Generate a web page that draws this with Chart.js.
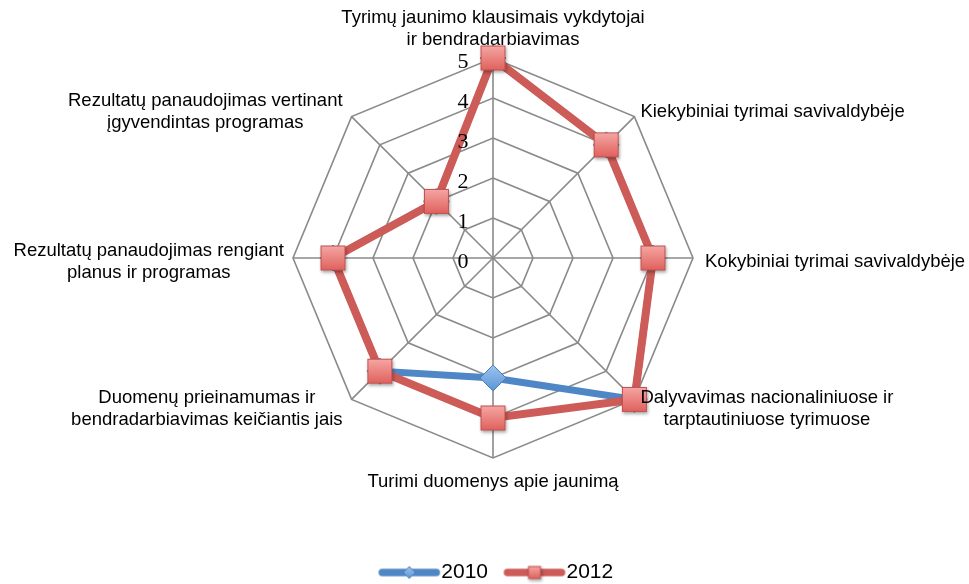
<!DOCTYPE html>
<html>
<head>
<meta charset="utf-8">
<script src="https://cdn.jsdelivr.net/npm/chart.js@4.4.0/dist/chart.umd.min.js"></script>
<style>
  html, body { margin: 0; padding: 0; background: #fff; }
</style>
</head>
<body>
<canvas id="radar" width="969" height="584"></canvas>
<script>
// categories clockwise from the top, split into the lines shown on the chart
const categories = [
  ['Tyrimų jaunimo klausimais vykdytojai', 'ir bendradarbiavimas'],
  ['Kiekybiniai tyrimai savivaldybėje'],
  ['Kokybiniai tyrimai savivaldybėje'],
  ['Dalyvavimas nacionaliniuose ir', 'tarptautiniuose tyrimuose'],
  ['Turimi duomenys apie jaunimą'],
  ['Duomenų prieinamumas ir', 'bendradarbiavimas keičiantis jais'],
  ['Rezultatų panaudojimas rengiant', 'planus ir programas'],
  ['Rezultatų panaudojimas vertinant', 'įgyvendintas programas']
];
const values2010 = [5, 4, 4, 5, 3, 4, 4, 2];
const values2012 = [5, 4, 4, 5, 4, 4, 4, 2];
const tickLabels = ['0', '1', '2', '3', '4', '5'];

const RED = '#CD5B57';
const BLUE = '#4F86C6';

// marker pictures (gradient + small shadow like the office chart)
function squareMarker(size) {
  const pad = 5;
  const c = document.createElement('canvas');
  c.width = c.height = size + pad * 2;
  const g = c.getContext('2d');
  g.shadowColor = 'rgba(0,0,0,0.35)';
  g.shadowBlur = 3;
  g.shadowOffsetX = 1;
  g.shadowOffsetY = 2;
  const grad = g.createLinearGradient(0, pad, 0, pad + size);
  grad.addColorStop(0, '#F5A8A5');
  grad.addColorStop(1, '#E0605C');
  g.fillStyle = grad;
  g.fillRect(pad, pad, size, size);
  g.shadowColor = 'transparent';
  g.strokeStyle = '#C0504D';
  g.lineWidth = 1;
  g.strokeRect(pad + 0.5, pad + 0.5, size - 1, size - 1);
  return c;
}

function diamondMarker(half) {
  const pad = 4;
  const c = document.createElement('canvas');
  c.width = c.height = half * 2 + pad * 2;
  const g = c.getContext('2d');
  const m = half + pad;
  g.beginPath();
  g.moveTo(m, pad);
  g.lineTo(m + half, m);
  g.lineTo(m, m + half);
  g.lineTo(m - half, m);
  g.closePath();
  const grad = g.createLinearGradient(0, pad, 0, m + half);
  grad.addColorStop(0, '#9CC3EE');
  grad.addColorStop(1, '#5B95D6');
  g.fillStyle = grad;
  g.fill();
  g.strokeStyle = '#4A7EBB';
  g.lineWidth = 1;
  g.stroke();
  return c;
}

// legend sample: thick line with the marker in the middle
function legendSample(color, marker) {
  const c = document.createElement('canvas');
  c.width = 79;
  c.height = 24;
  const g = c.getContext('2d');
  g.strokeStyle = color;
  g.lineWidth = 7.5;
  g.lineCap = 'round';
  g.beginPath();
  g.moveTo(20, 12);
  g.lineTo(74, 12);
  g.stroke();
  g.drawImage(marker, 47 - marker.width / 2, 12 - marker.height / 2);
  return c;
}

const sq = squareMarker(25);
const dm = diamondMarker(13);
const legend2010 = legendSample(BLUE, diamondMarker(6));
const legend2012 = legendSample(RED, squareMarker(13));

const labelPlugin = {
  id: 'labelPlugin',
  afterDatasetsDraw(chart) {
    const r = chart.scales.r;
    const ctx = chart.ctx;
    ctx.save();
    ctx.fillStyle = '#000';
    ctx.textBaseline = 'middle';
    ctx.textAlign = 'center';

    ctx.font = '22px "Liberation Serif", "Times New Roman", serif';
    tickLabels.forEach((t, i) => {
      const d = r.getDistanceFromCenterForValue(i);
      ctx.fillText(t, r.xCenter - 30, r.yCenter - d + 4);
    });

    ctx.font = '18.5px "Liberation Sans", Arial, sans-serif';
    const lh = 22;
    categories.forEach((lines, i) => {
      const p = r.getPointPosition(i, r.drawingArea);
      const w = Math.max(...lines.map(s => ctx.measureText(s).width));
      const h = lines.length * lh;
      const dx = p.x - r.xCenter;
      const dy = p.y - r.yCenter;
      let cx, top;
      if (Math.abs(dx) < 5) {
        cx = p.x;
        top = dy < 0 ? p.y - 7 - h : p.y + 13;
      } else {
        const side = Math.abs(dy) < 5;
        cx = dx > 0 ? p.x + (side ? 12 : 6) + w / 2 : p.x - 9 - w / 2;
        let mid;
        if (side) mid = p.y + 4;
        else if (dy < 0) mid = p.y - 5;
        else mid = p.y + 9;
        top = mid - h / 2;
      }
      lines.forEach((s, k) => ctx.fillText(s, cx, top + lh * (k + 0.5)));
    });
    ctx.restore();
  }
};

new Chart(document.getElementById('radar'), {
  type: 'radar',
  data: {
    labels: categories,
    datasets: [
      {
        label: '2012',
        data: values2012,
        borderColor: RED,
        backgroundColor: RED,
        borderWidth: 8,
        fill: false,
        pointStyle: sq,
        pointRadius: 12,
        clip: false
      },
      {
        label: '2010',
        data: values2010,
        borderColor: BLUE,
        backgroundColor: BLUE,
        borderWidth: 7,
        fill: false,
        pointStyle: dm,
        pointRadius: 12,
        clip: false
      }
    ]
  },
  options: {
    responsive: false,
    animation: false,
    layout: { padding: { top: 58, bottom: -9, left: 20, right: 3 } },
    elements: { line: { tension: 0 } },
    scales: {
      r: {
        min: 0,
        max: 5,
        ticks: { stepSize: 1, display: false },
        pointLabels: { display: false },
        grid: { color: '#8A8A8A', lineWidth: 1.6 },
        angleLines: { color: '#8A8A8A', lineWidth: 1.6 }
      }
    },
    plugins: {
      tooltip: { enabled: false },
      legend: {
        position: 'bottom',
        title: { display: true, text: '', padding: { top: 79.6, bottom: 0 }, font: { size: 12 } },
        labels: {
          usePointStyle: true,
          pointStyleWidth: 58,
          padding: 10,
          color: '#000',
          font: { size: 21, family: '"Liberation Sans", Arial, sans-serif' },
          sort: (a, b) => a.text.localeCompare(b.text),
          generateLabels(chart) {
            const items = Chart.defaults.plugins.legend.labels.generateLabels(chart);
            items.forEach(it => { it.pointStyle = it.text === '2010' ? legend2010 : legend2012; });
            return items;
          }
        }
      }
    }
  },
  plugins: [labelPlugin]
});
</script>
</body>
</html>
